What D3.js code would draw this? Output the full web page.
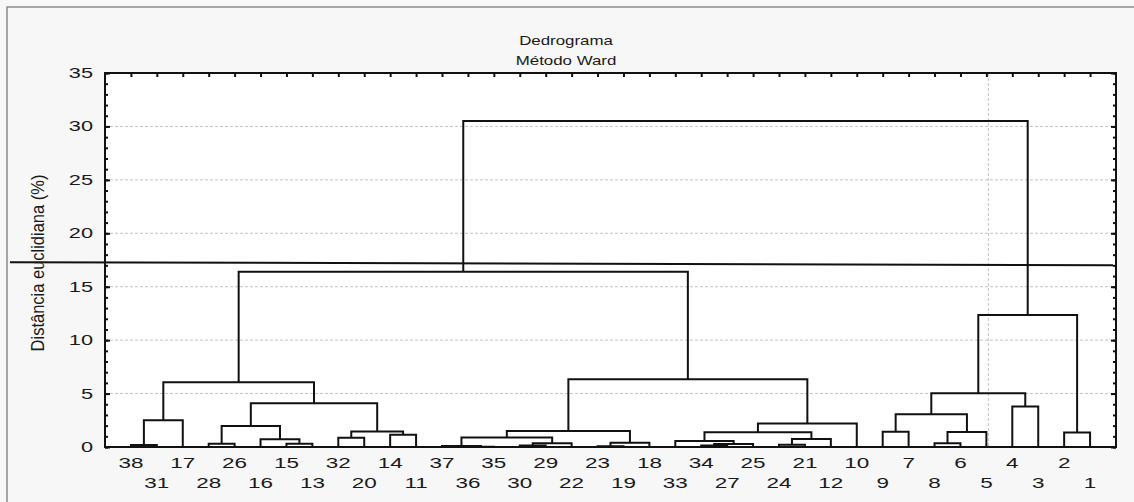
<!DOCTYPE html>
<html>
<head>
<meta charset="utf-8">
<script src="https://cdn.jsdelivr.net/npm/d3@7"></script>
<style>
  body { margin: 0; background: #f7f7f7; }
  text { font-family: "Liberation Sans", Arial, sans-serif; fill: #1a1a1a; }
</style>
</head>
<body>
<div id="chart"></div>
<script>
// Leaf order along the x axis, left to right
const leafOrder = [38, 31, 17, 28, 26, 16, 15, 13, 32, 20, 14, 11, 37, 36, 35, 30, 29, 22, 23, 19,
                   18, 33, 34, 27, 25, 24, 21, 12, 10, 9, 7, 8, 6, 5, 4, 3, 2, 1];

// Merges as [left, right, height]; a number is a leaf, a string "k" is merge number k
const merges = [
    [38, 31, 0.19],     // 0
    ["0", 17, 2.5],     // 1
    [28, 26, 0.3],      // 2
    [15, 13, 0.3],      // 3
    [16, "3", 0.72],    // 4
    ["2", "4", 1.96],   // 5
    [32, 20, 0.87],     // 6
    [14, 11, 1.15],     // 7
    ["6", "7", 1.46],   // 8
    ["5", "8", 4.1],    // 9
    ["1", "9", 6.05],   // 10
    [36, 35, 0.03],     // 11
    [37, "11", 0.1],    // 12
    [30, 29, 0.15],     // 13
    ["13", 22, 0.35],   // 14
    ["12", "14", 0.9],  // 15
    [23, 19, 0.08],     // 16
    ["16", 18, 0.4],    // 17
    ["15", "17", 1.5],  // 18
    [34, 27, 0.15],     // 19
    ["19", 25, 0.28],   // 20
    [33, "20", 0.56],   // 21
    [24, 21, 0.2],      // 22
    ["22", 12, 0.75],   // 23
    ["21", "23", 1.37], // 24
    ["24", 10, 2.2],    // 25
    ["18", "25", 6.33], // 26
    ["10", "26", 16.4], // 27
    [9, 7, 1.43],       // 28
    [8, 6, 0.35],       // 29
    ["29", 5, 1.4],     // 30
    ["28", "30", 3.06], // 31
    [4, 3, 3.8],        // 32
    ["31", "32", 5.02], // 33
    [2, 1, 1.35],       // 34
    ["33", "34", 12.35],// 35
    ["27", "35", 30.5]  // 36
];

// Axis values
const yTicks = [0, 5, 10, 15, 20, 25, 30, 35];
const yMinorTicks = d3.range(0, 36);
const gridValues = [5, 10, 15, 20, 25, 30];
const gridLeaves = [5];
// Cut line height at the left and right ends
const cutLine = [17.3, 17.0];

const titleLines = ["Dedrograma", "Método Ward"];
const yLabel = "Distância euclidiana (%)";

const width = 1134, height = 502;
const plot = { left: 105, right: 1116, top: 73, bottom: 447 };

let svg = d3.select("#chart").append("svg")
    .attr("width", width)
    .attr("height", height);

// Outer frame
svg.append("rect")
    .attr("x", 7).attr("y", 7)
    .attr("width", width).attr("height", height)
    .attr("fill", "#f7f7f7")
    .attr("stroke", "#8c8c8c")
    .attr("stroke-width", 1.5);

let x = d3.scalePoint().domain(leafOrder).range([plot.left, plot.right]).padding(1);
let y = d3.scaleLinear().domain([0, 35]).range([plot.bottom, plot.top]);

// Plot background
svg.append("rect")
    .attr("x", plot.left).attr("y", plot.top)
    .attr("width", plot.right - plot.left)
    .attr("height", plot.bottom - plot.top)
    .attr("fill", "#fff");

// Dotted grid lines
svg.append("g").selectAll("line.h")
    .data(gridValues)
    .join("line")
    .attr("x1", plot.left).attr("x2", plot.right)
    .attr("y1", d => y(d)).attr("y2", d => y(d))
    .attr("stroke", "#c4c4c4")
    .attr("stroke-dasharray", "3,2");

svg.append("g").selectAll("line.v")
    .data(gridLeaves)
    .join("line")
    .attr("x1", d => x(d) + 2).attr("x2", d => x(d) + 2)
    .attr("y1", plot.top).attr("y2", plot.bottom)
    .attr("stroke", "#c4c4c4")
    .attr("stroke-dasharray", "3,2");

// Work out the position of each merge from its children
let nodes = [];
function nodeOf(ref) {
    if (typeof ref === "number") return { x: x(ref), h: 0 };
    return nodes[+ref];
}
merges.forEach(function(m) {
    let a = nodeOf(m[0]), b = nodeOf(m[1]);
    nodes.push({ x: (a.x + b.x) / 2, h: m[2], a: a, b: b });
});

// Dendrogram links
svg.append("g").selectAll("path")
    .data(nodes)
    .join("path")
    .attr("d", n => "M" + n.a.x + "," + y(n.a.h) + "V" + y(n.h) + "H" + n.b.x + "V" + y(n.b.h))
    .attr("fill", "none")
    .attr("stroke", "#111")
    .attr("stroke-width", 2);

// Ticks pointing inward on all sides
function tickAxis(axis, tx, ty) {
    let g = svg.append("g")
        .attr("transform", "translate(" + tx + "," + ty + ")")
        .call(axis);
    g.select(".domain").remove();
    g.selectAll("line").attr("stroke", "#111").attr("stroke-width", 2);
}
tickAxis(d3.axisRight(y).tickValues(yMinorTicks).tickSize(3).tickFormat(""), plot.left, 0);
tickAxis(d3.axisRight(y).tickValues(yTicks).tickSize(5).tickFormat(""), plot.left, 0);
tickAxis(d3.axisLeft(y).tickValues(yMinorTicks).tickSize(3).tickFormat(""), plot.right, 0);
tickAxis(d3.axisLeft(y).tickValues(yTicks).tickSize(5).tickFormat(""), plot.right, 0);
tickAxis(d3.axisBottom(x).tickSize(4).tickFormat(""), 0, plot.top);

// Plot frame
svg.append("rect")
    .attr("x", plot.left).attr("y", plot.top)
    .attr("width", plot.right - plot.left)
    .attr("height", plot.bottom - plot.top)
    .attr("fill", "none")
    .attr("stroke", "#111")
    .attr("stroke-width", 2);

// Cut line across the tree
svg.append("line")
    .attr("x1", 10).attr("x2", plot.right - 3)
    .attr("y1", y(cutLine[0])).attr("y2", y(cutLine[1]))
    .attr("stroke", "#111")
    .attr("stroke-width", 2);

// Helper for text widened horizontally like in the reference
function stretchedText(str, tx, ty, size, stretch, anchor, extra) {
    return svg.append("text")
        .attr("transform", "translate(" + tx + "," + ty + ") scale(" + stretch + ",1)" + (extra || ""))
        .attr("text-anchor", anchor)
        .attr("font-size", size)
        .text(str);
}

// Y tick labels
yTicks.forEach(function(v) {
    stretchedText(v, 93, y(v) + 5, 14.5, 1.5, "end");
});

// Leaf labels, alternating between two rows
leafOrder.forEach(function(leaf, i) {
    stretchedText(leaf, x(leaf), i % 2 === 0 ? 468 : 487.5, 14.5, 1.55, "middle");
});

// Titles
titleLines.forEach(function(t, i) {
    stretchedText(t, 566, 45 + i * 20, 13.5, 1.25, "middle");
});

// Y axis label
stretchedText(yLabel, 44, 263, 16.5, 1.15, "middle", " rotate(-90)");
</script>
</body>
</html>
